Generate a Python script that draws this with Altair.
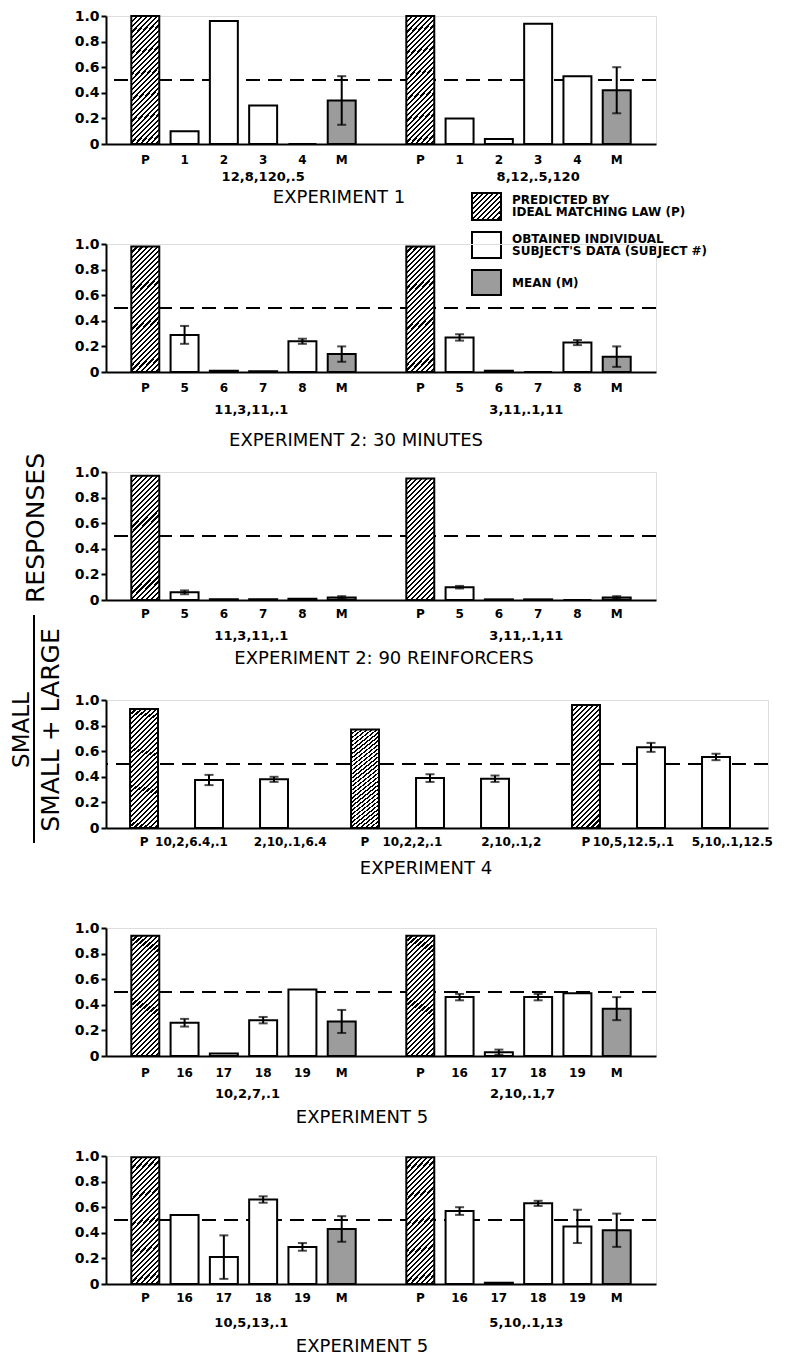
import altair as alt
import pandas as pd

# ---------------- data ----------------
ref_line = [0.5]

exp1_ticks = ["P", "1", "2", "3", "4", "M"]
exp1_groups = ["12,8,120,.5", "8,12,.5,120"]
exp1_a_vals = [1.00, 0.10, 0.96, 0.30, 0.00, 0.34]
exp1_a_err = [0, 0, 0, 0, 0, 0.19]
exp1_b_vals = [1.00, 0.20, 0.04, 0.94, 0.53, 0.42]
exp1_b_err = [0, 0, 0, 0, 0, 0.18]

exp2_ticks = ["P", "5", "6", "7", "8", "M"]
exp2_groups = ["11,3,11,.1", "3,11,.1,11"]
exp2m_a_vals = [0.98, 0.29, 0.01, 0.005, 0.24, 0.14]
exp2m_a_err = [0, 0.07, 0, 0, 0.02, 0.06]
exp2m_b_vals = [0.98, 0.27, 0.01, 0.0, 0.23, 0.12]
exp2m_b_err = [0, 0.025, 0, 0, 0.02, 0.08]

exp2r_a_vals = [0.97, 0.06, 0.005, 0.005, 0.01, 0.02]
exp2r_a_err = [0, 0.015, 0, 0, 0, 0.01]
exp2r_b_vals = [0.95, 0.10, 0.005, 0.005, 0.0, 0.02]
exp2r_b_err = [0, 0.01, 0, 0, 0, 0.01]

exp4_ticks = ["P", "10,2,6.4,.1", "2,10,.1,6.4",
              "P", "10,2,2,.1", "2,10,.1,2",
              "P", "10,5,12.5,.1", "5,10,.1,12.5"]
exp4_vals = [0.93, 0.375, 0.38, 0.77, 0.39, 0.385, 0.96, 0.63, 0.555]
exp4_err = [0, 0.04, 0.02, 0, 0.03, 0.025, 0, 0.035, 0.025]

exp5_ticks = ["P", "16", "17", "18", "19", "M"]
exp5a_groups = ["10,2,7,.1", "2,10,.1,7"]
exp5a_a_vals = [0.94, 0.26, 0.02, 0.28, 0.52, 0.27]
exp5a_a_err = [0, 0.03, 0, 0.025, 0, 0.09]
exp5a_b_vals = [0.94, 0.46, 0.03, 0.46, 0.49, 0.37]
exp5a_b_err = [0, 0.025, 0.02, 0.025, 0, 0.09]

exp5b_groups = ["10,5,13,.1", "5,10,.1,13"]
exp5b_a_vals = [0.99, 0.54, 0.21, 0.66, 0.29, 0.43]
exp5b_a_err = [0, 0, 0.17, 0.025, 0.03, 0.10]
exp5b_b_vals = [0.99, 0.57, 0.01, 0.63, 0.45, 0.42]
exp5b_b_err = [0, 0.03, 0, 0.02, 0.13, 0.13]

titles = ["EXPERIMENT 1", "EXPERIMENT 2: 30 MINUTES", "EXPERIMENT 2: 90 REINFORCERS",
          "EXPERIMENT 4", "EXPERIMENT 5", "EXPERIMENT 5"]
legend_lines = [["PREDICTED BY", "IDEAL MATCHING LAW (P)"],
                ["OBTAINED INDIVIDUAL", "SUBJECT'S DATA (SUBJECT #)"],
                ["MEAN (M)"]]
ytitle_top = "SMALL"
ytitle_bottom = "SMALL + LARGE"
ytitle_rest = "RESPONSES"

# ---------------- styling ----------------
H = 128
SPACING = 100
BOLD = "DejaVu Sans"
TFONT = "DejaVu Sans"
MEAN_FILL = "#9c9c9c"


def hatch(ratio, n, duty=0.42):
    k = (1 + ratio) / (1 + ratio * ratio)
    stops = []
    for i in range(n):
        a = i / n
        b = (i + duty) / n
        c = (i + 1) / n
        stops += [{"offset": a, "color": "black"}, {"offset": b, "color": "black"},
                  {"offset": b, "color": "white"}, {"offset": c, "color": "white"}]
    return {"gradient": "linear", "x1": 0, "y1": 0, "x2": k, "y2": k * ratio, "stops": stops}


HATCH_BAR = hatch(4.4, 30)
HATCH_KEY = hatch(0.95, 11)


def y_enc(field):
    return alt.Y(field, scale=alt.Scale(domain=[0, 1], nice=False, zero=True),
                 axis=alt.Axis(values=[0, 0.2, 0.4, 0.6, 0.8, 1.0],
                               labelExpr="datum.value == 0 ? '0' : format(datum.value, '.1f')",
                               title=None, grid=False, tickSize=5, tickWidth=2,
                               domainWidth=2, domainColor="black", tickColor="black",
                               labelFont=BOLD, labelFontWeight="bold", labelFontSize=14,
                               labelColor="black", labelPadding=2))


def x_enc(field, domain):
    return alt.X(field, scale=alt.Scale(domain=domain, nice=False, zero=False),
                 axis=alt.Axis(labels=False, ticks=False, title=None, grid=False,
                               domainWidth=2, domainColor="black"))


def build_panel(rows, groups, title, width, domain, hw, title_x,
                tick_dy, group_dy, title_dy, extras=()):
    df = pd.DataFrame(rows)
    df["x0"] = df["pos"] - hw
    df["x1"] = df["pos"] + hw
    df["base"] = 0.0
    df["lo"] = df["val"] - df["err"]
    df["hi"] = df["val"] + df["err"]
    err_df = df[df["err"] > 0]

    def bars(kind, fill):
        return alt.Chart(df).transform_filter(alt.datum.kind == kind).mark_bar(
            fill=fill, stroke="black", strokeWidth=2
        ).encode(x=x_enc("x0:Q", domain), x2="x1:Q", y=y_enc("val:Q"), y2="base:Q")

    layers = [
        alt.Chart(pd.DataFrame({"ref": ref_line})).mark_rule(
            strokeDash=[14, 8], strokeWidth=2, color="black").encode(y=y_enc("ref:Q")),
        bars("S", "white"),
        bars("P", HATCH_BAR),
        bars("M", MEAN_FILL),
    ]
    if len(err_df):
        layers += [
            alt.Chart(err_df).mark_rule(color="black", strokeWidth=2).encode(
                x=x_enc("pos:Q", domain), y=y_enc("lo:Q"), y2="hi:Q"),
            alt.Chart(err_df).mark_tick(color="black", thickness=2, size=9,
                                        orient="horizontal").encode(
                x=x_enc("pos:Q", domain), y=y_enc("hi:Q")),
            alt.Chart(err_df).mark_tick(color="black", thickness=2, size=9,
                                        orient="horizontal").encode(
                x=x_enc("pos:Q", domain), y=y_enc("lo:Q")),
        ]
    layers.append(
        alt.Chart(df).mark_text(font=BOLD, fontWeight="bold", fontSize=12,
                                baseline="middle", color="black").encode(
            x=x_enc("lpos:Q", domain), y=alt.value(H + tick_dy), text="tick:N"))
    if groups is not None:
        layers.append(
            alt.Chart(pd.DataFrame(groups)).mark_text(
                font=BOLD, fontWeight="bold", fontSize=13, baseline="middle",
                color="black").encode(
                x=x_enc("gpos:Q", domain), y=alt.value(H + group_dy), text="glabel:N"))
    layers.append(
        alt.Chart(pd.DataFrame({"t": [title]})).mark_text(
            font=TFONT, fontSize=18, baseline="middle", color="black").encode(
            x=alt.value(title_x), y=alt.value(H + title_dy), text="t:N"))
    layers += list(extras)
    return alt.layer(*layers).properties(width=width, height=H)


def six_rows(ticks, a_vals, a_err, b_vals, b_err):
    rows = []
    for g, (vals, errs) in enumerate([(a_vals, a_err), (b_vals, b_err)]):
        for i, (t, v, e) in enumerate(zip(ticks, vals, errs)):
            kind = "P" if i == 0 else ("M" if i == len(ticks) - 1 else "S")
            rows.append({"pos": g * 7 + i, "lpos": g * 7 + i, "tick": t,
                         "val": v, "err": e, "kind": kind})
    return rows


def six_groups(labels, off):
    return [{"gpos": g * 7 + off, "glabel": lab} for g, lab in enumerate(labels)]


def one():
    return alt.Data(values=[{}])


# legend (placed under panel 1)
def key_box(fill, y0, y1):
    return alt.Chart(one()).mark_rect(fill=fill, stroke="black", strokeWidth=2).encode(
        x=alt.value(366), x2=alt.value(395), y=alt.value(y0), y2=alt.value(y1))


def key_text(lines, y):
    return alt.Chart(one()).mark_text(
        font=BOLD, fontWeight="bold", fontSize=12, align="left", baseline="middle",
        lineHeight=12, color="black").encode(
        x=alt.value(406), y=alt.value(y), text=alt.value(lines))


legend_layers = [
    key_box(HATCH_KEY, 177, 204), key_text(legend_lines[0], 184),
    key_box("white", 216, 242), key_text(legend_lines[1], 223),
    key_box(MEAN_FILL, 254, 279), key_text(legend_lines[2], 267),
]

# y-title (placed beside panel 4)
ytitle_layers = [
    alt.Chart(one()).mark_text(font=TFONT, fontSize=25, angle=270, baseline="middle",
                               color="black").encode(
        x=alt.value(-70), y=alt.value(-172), text=alt.value(ytitle_rest)),
    alt.Chart(one()).mark_text(font=TFONT, fontSize=23, angle=270, baseline="middle",
                               color="black").encode(
        x=alt.value(-84), y=alt.value(30), text=alt.value(ytitle_top)),
    alt.Chart(one()).mark_text(font=TFONT, fontSize=25, angle=270, baseline="middle",
                               color="black").encode(
        x=alt.value(-55), y=alt.value(30), text=alt.value(ytitle_bottom)),
    alt.Chart(one()).mark_rule(color="black", strokeWidth=2).encode(
        x=alt.value(-72), y=alt.value(-85), y2=alt.value(143)),
]

D6 = [-1, 13]
HW6 = 0.356
W6 = 550

p1 = build_panel(six_rows(exp1_ticks, exp1_a_vals, exp1_a_err, exp1_b_vals, exp1_b_err),
                 six_groups(exp1_groups, 3.0), titles[0], W6, D6, HW6, 233, 16, 33, 54,
                 extras=legend_layers)
p2 = build_panel(six_rows(exp2_ticks, exp2m_a_vals, exp2m_a_err, exp2m_b_vals, exp2m_b_err),
                 six_groups(exp2_groups, 2.7), titles[1], W6, D6, HW6, 250, 16, 38, 69)
p3 = build_panel(six_rows(exp2_ticks, exp2r_a_vals, exp2r_a_err, exp2r_b_vals, exp2r_b_err),
                 six_groups(exp2_groups, 2.7), titles[2], W6, D6, HW6, 278, 14, 36, 59)

rows4 = []
for i, (t, v, e) in enumerate(zip(exp4_ticks, exp4_vals, exp4_err)):
    g, j = divmod(i, 3)
    pos = g * 3.4 + j
    shift = {0: 0.0, 1: -0.27, 2: 0.25}[j]
    rows4.append({"pos": pos, "lpos": pos + shift, "tick": t, "val": v, "err": e,
                  "kind": "P" if j == 0 else "S"})
p4 = build_panel(rows4, None, titles[3], 662, [-0.585, 9.6], 0.215, 320, 14, 0, 41,
                 extras=ytitle_layers)

p5 = build_panel(six_rows(exp5_ticks, exp5a_a_vals, exp5a_a_err, exp5a_b_vals, exp5a_b_err),
                 six_groups(exp5a_groups, 2.6), titles[4], W6, D6, HW6, 256, 17, 38, 62)
p6 = build_panel(six_rows(exp5_ticks, exp5b_a_vals, exp5b_a_err, exp5b_b_vals, exp5b_b_err),
                 six_groups(exp5b_groups, 2.7), titles[5], W6, D6, HW6, 256, 14, 39, 63)

chart = alt.vconcat(p1, p2, p3, p4, p5, p6, spacing=SPACING, bounds="flush").properties(
    padding={"left": 2, "top": 0, "right": 0, "bottom": 0}
).configure_view(stroke=None).configure(background="white")

chart.save("out.html", embed_options={"renderer": "svg", "actions": False})
